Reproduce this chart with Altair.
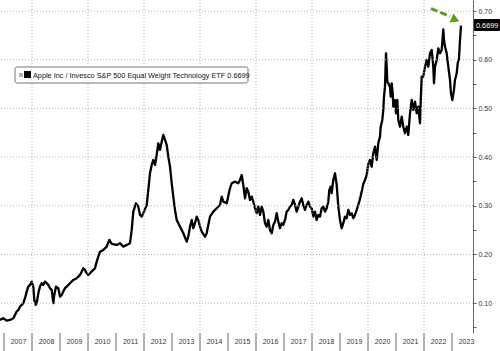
import altair as alt
import pandas as pd

# ---- data (decimal year, ratio) ----
years = [2006.857, 2006.975, 2007.096, 2007.214, 2007.332, 2007.393, 2007.453, 2007.511, 2007.571, 2007.632,
         2007.689, 2007.750, 2007.811, 2007.868, 2007.929, 2007.989, 2008.046, 2008.082, 2008.132, 2008.168,
         2008.225, 2008.286, 2008.346, 2008.403, 2008.464, 2008.525, 2008.582, 2008.643, 2008.703, 2008.761,
         2008.796, 2008.857, 2008.939, 2009.000, 2009.061, 2009.118, 2009.178, 2009.239, 2009.357, 2009.475,
         2009.596, 2009.714, 2009.775, 2009.832, 2009.893, 2009.953, 2010.011, 2010.071, 2010.189, 2010.250,
         2010.311, 2010.368, 2010.429, 2010.546, 2010.668, 2010.761, 2010.846, 2011.025, 2011.143, 2011.261,
         2011.382, 2011.500, 2011.561, 2011.618, 2011.714, 2011.796, 2011.857, 2011.918, 2012.000, 2012.096,
         2012.154, 2012.214, 2012.275, 2012.332, 2012.393, 2012.453, 2012.511, 2012.571, 2012.632, 2012.689,
         2012.750, 2012.811, 2012.868, 2012.929, 2012.989, 2013.046, 2013.107, 2013.168, 2013.286, 2013.404,
         2013.525, 2013.582, 2013.643, 2013.703, 2013.761, 2013.821, 2013.882, 2013.939, 2014.000, 2014.061,
         2014.178, 2014.239, 2014.296, 2014.357, 2014.475, 2014.596, 2014.714, 2014.775, 2014.832, 2014.953,
         2015.071, 2015.132, 2015.250, 2015.368, 2015.429, 2015.489, 2015.546, 2015.607, 2015.668, 2015.725,
         2015.786, 2015.846, 2015.904, 2015.964, 2016.025, 2016.082, 2016.143, 2016.204, 2016.261, 2016.321,
         2016.382, 2016.439, 2016.500, 2016.561, 2016.618, 2016.679, 2016.739, 2016.796, 2016.857, 2016.918,
         2016.975, 2017.036, 2017.096, 2017.154, 2017.214, 2017.275, 2017.332, 2017.393, 2017.453, 2017.511,
         2017.571, 2017.632, 2017.689, 2017.750, 2017.811, 2017.868, 2017.929, 2017.989, 2018.046, 2018.107,
         2018.168, 2018.225, 2018.286, 2018.346, 2018.404, 2018.464, 2018.525, 2018.582, 2018.618, 2018.668,
         2018.703, 2018.761, 2018.821, 2018.882, 2018.939, 2019.000, 2019.061, 2019.118, 2019.178, 2019.239,
         2019.296, 2019.357, 2019.418, 2019.475, 2019.536, 2019.596, 2019.654, 2019.714, 2019.775, 2019.832,
         2019.893, 2019.953, 2020.011, 2020.071, 2020.132, 2020.189, 2020.250, 2020.311, 2020.368, 2020.429,
         2020.454, 2020.511, 2020.546, 2020.571, 2020.607, 2020.643, 2020.668, 2020.689, 2020.725, 2020.786,
         2020.811, 2020.846, 2020.882, 2020.904, 2020.964, 2021.000, 2021.046, 2021.082, 2021.143, 2021.204,
         2021.261, 2021.321, 2021.382, 2021.439, 2021.500, 2021.561, 2021.618, 2021.679, 2021.739, 2021.796,
         2021.857, 2021.893, 2021.918, 2021.975, 2022.036, 2022.096, 2022.154, 2022.214, 2022.275, 2022.332,
         2022.357, 2022.393, 2022.453, 2022.511, 2022.571, 2022.632, 2022.689, 2022.714, 2022.750, 2022.811,
         2022.868, 2022.929, 2022.964, 2023.011, 2023.071, 2023.107, 2023.168, 2023.204, 2023.250, 2023.286,
         2023.321]

ratio = [0.0655, 0.0690, 0.0641, 0.0655, 0.0690, 0.0758, 0.0825, 0.0860, 0.0928, 0.0963,
         0.0998, 0.1101, 0.1236, 0.1339, 0.1374, 0.1441, 0.1339, 0.1066, 0.0963, 0.0998,
         0.1203, 0.1339, 0.1409, 0.1374, 0.1441, 0.1409, 0.1374, 0.1306, 0.1271, 0.0998,
         0.1168, 0.1339, 0.1306, 0.1133, 0.1168, 0.1236, 0.1306, 0.1339, 0.1409, 0.1476,
         0.1511, 0.1579, 0.1647, 0.1717, 0.1682, 0.1614, 0.1579, 0.1614, 0.1682, 0.1717,
         0.1852, 0.1955, 0.2057, 0.2092, 0.2160, 0.2298, 0.2216, 0.2195, 0.2230, 0.2160,
         0.2195, 0.2230, 0.2503, 0.2879, 0.3051, 0.2982, 0.2811, 0.2776, 0.2879, 0.3016,
         0.3324, 0.3667, 0.3838, 0.3940, 0.3838, 0.4043, 0.4283, 0.4146, 0.4316, 0.4454,
         0.4351, 0.4248, 0.4008, 0.3803, 0.3462, 0.3187, 0.2914, 0.2708, 0.2571, 0.2435,
         0.2263, 0.2366, 0.2571, 0.2708, 0.2538, 0.2641, 0.2776, 0.2708, 0.2571, 0.2468,
         0.2366, 0.2435, 0.2606, 0.2776, 0.2879, 0.2949, 0.3016, 0.3187, 0.3084, 0.3051,
         0.3359, 0.3462, 0.3495, 0.3462, 0.3530, 0.3632, 0.3427, 0.3154, 0.3359, 0.3290,
         0.3119, 0.3187, 0.3084, 0.2949, 0.2846, 0.2982, 0.2811, 0.2982, 0.2879, 0.2641,
         0.2571, 0.2708, 0.2503, 0.2435, 0.2606, 0.2674, 0.2846, 0.2674, 0.2538, 0.2641,
         0.2606, 0.2708, 0.2879, 0.2914, 0.2982, 0.3016, 0.3119, 0.3016, 0.2879, 0.2982,
         0.3084, 0.3154, 0.3016, 0.2914, 0.3016, 0.3084, 0.2982, 0.2949, 0.2776, 0.2879,
         0.2708, 0.2811, 0.2776, 0.2949, 0.2982, 0.2879, 0.2949, 0.3084, 0.3324, 0.3392,
         0.3257, 0.3530, 0.3667, 0.3427, 0.2982, 0.2708, 0.2538, 0.2641, 0.2776, 0.2743,
         0.2914, 0.2811, 0.2846, 0.2743, 0.2811, 0.2914, 0.3016, 0.3140, 0.3290, 0.3448,
         0.3530, 0.3632, 0.3858, 0.3940, 0.3803, 0.4078, 0.4214, 0.3940, 0.4283, 0.4419,
         0.4624, 0.4762, 0.4967, 0.5240, 0.5446, 0.6131, 0.5856, 0.5548, 0.5515, 0.5446,
         0.5240, 0.5515, 0.5310, 0.5035, 0.5172, 0.4899, 0.5172, 0.4762, 0.4624, 0.4830,
         0.4624, 0.4489, 0.4624, 0.4454, 0.4899, 0.5172, 0.4967, 0.5138, 0.4899, 0.5035,
         0.4694, 0.5310, 0.5651, 0.5651, 0.5856, 0.5994, 0.5856, 0.6131, 0.6199, 0.5856,
         0.5515, 0.5856, 0.5994, 0.6234, 0.6131, 0.6199, 0.6624, 0.6405, 0.6267, 0.6131,
         0.5856, 0.5583, 0.5310, 0.5172, 0.5378, 0.5583, 0.5721, 0.5926, 0.6029, 0.6405,
         0.6699]

year_starts = list(range(2007, 2024))
year_mids = [y + 0.5 for y in year_starts]
grid_years = [2008, 2010, 2012, 2014, 2016, 2018, 2020, 2022]
grid_values = [0.1, 0.2, 0.3, 0.4, 0.5, 0.6, 0.7]
tick_values = [round(0.05 * i, 2) for i in range(1, 15)]
legend_label = "Apple Inc / Invesco S&P 500 Equal Weight Technology ETF 0.6699"
last_label = "0.6699"

# arrow annotation (decimal year, ratio)
arrow_start = (2022.25, 0.7050)
arrow_end = (2022.93, 0.6890)
arrow_head = (2023.12, 0.6822)

W, H = 473, 333
FONT = "Liberation Sans"

xscale = alt.Scale(domain=[2006.857, 2023.75], nice=False, zero=False)
yscale = alt.Scale(domain=[0.0386, 0.7226], nice=False, zero=False)

xaxis = alt.Axis(
    values=year_mids, labelExpr="floor(datum.value)", ticks=False, domain=False, grid=False,
    labelFont=FONT, labelFontSize=7, labelColor="#333", labelPadding=4, title=None,
    labelFlush=False, labelOverlap=False)
yaxis = alt.Axis(
    orient="right", values=tick_values,
    labelExpr="(round(datum.value*100) % 10 == 0) ? format(datum.value, '.2f') : ''",
    grid=False, tickSize=3, tickColor="#555", domainColor="#666", labelFont=FONT,
    labelFontSize=7, labelColor="#333", labelPadding=2, title=None,
    labelFlush=False, labelOverlap=False)

df = pd.DataFrame({"year": years, "ratio": ratio})
one = pd.DataFrame({"a": [0]})

line = alt.Chart(df).mark_line(color="#000", strokeWidth=2.3, strokeJoin="round").encode(
    x=alt.X("year:Q", scale=xscale, axis=xaxis),
    y=alt.Y("ratio:Q", scale=yscale, axis=yaxis),
)

vgrid = alt.Chart(pd.DataFrame({"year": grid_years})).mark_rule(
    color="#b5b5b5", strokeDash=[1, 2], strokeWidth=1
).encode(x=alt.X("year:Q", scale=xscale, axis=xaxis))

hgrid = alt.Chart(pd.DataFrame({"ratio": grid_values})).mark_rule(
    color="#b5b5b5", strokeDash=[1, 2], strokeWidth=1
).encode(y=alt.Y("ratio:Q", scale=yscale, axis=yaxis))

separators = alt.Chart(pd.DataFrame({"year": year_starts})).mark_rule(
    color="#666", strokeWidth=1
).encode(x=alt.X("year:Q", scale=xscale, axis=xaxis), y=alt.value(H), y2=alt.value(H + 18))

legend_box = alt.Chart(one).mark_rect(
    fill="white", stroke="#777", strokeWidth=1, cornerRadius=2
).encode(x=alt.value(15), x2=alt.value(248), y=alt.value(67), y2=alt.value(83))
legend_grey = alt.Chart(one).mark_rect(fill="#b0b0b0").encode(
    x=alt.value(19), x2=alt.value(23), y=alt.value(73), y2=alt.value(77))
legend_black = alt.Chart(one).mark_rect(fill="#000").encode(
    x=alt.value(24), x2=alt.value(31), y=alt.value(71), y2=alt.value(78))
legend_text = alt.Chart(one).mark_text(
    text=legend_label, align="left", baseline="middle", font=FONT, fontSize=7.3, color="#111"
).encode(x=alt.value(33), y=alt.value(75.5))

last_box = alt.Chart(one).mark_rect(fill="#000", cornerRadius=1).encode(
    x=alt.value(474), x2=alt.value(500), y=alt.value(19), y2=alt.value(31))
last_text = alt.Chart(one).mark_text(
    text=last_label, align="left", baseline="middle", font=FONT, fontSize=7.3, color="white"
).encode(x=alt.value(476), y=alt.value(25.5))

arrow_df = pd.DataFrame({"year": [arrow_start[0]], "ratio": [arrow_start[1]],
                         "x2": [arrow_end[0]], "y2": [arrow_end[1]]})
arrow_line = alt.Chart(arrow_df).mark_rule(
    color="#5e9c1e", strokeWidth=3, strokeDash=[7, 3]
).encode(x=alt.X("year:Q", scale=xscale, axis=xaxis), y=alt.Y("ratio:Q", scale=yscale, axis=yaxis),
         x2="x2:Q", y2="y2:Q")
head_df = pd.DataFrame({"year": [arrow_head[0]], "ratio": [arrow_head[1]]})
arrow_tip = alt.Chart(head_df).mark_point(
    shape="triangle-right", filled=True, color="#5e9c1e", size=95, angle=24, opacity=1
).encode(x=alt.X("year:Q", scale=xscale, axis=xaxis), y=alt.Y("ratio:Q", scale=yscale, axis=yaxis))

chart = alt.layer(
    line, vgrid, hgrid, separators, legend_box, legend_grey, legend_black, legend_text,
    last_box, last_text, arrow_line, arrow_tip
).properties(
    width=W, height=H,
    autosize=alt.AutoSizeParams(type="none"),
    padding={"left": 0, "top": 0, "right": 27, "bottom": 18},
    background="white",
).configure_view(stroke=None)

chart.save("out.html", embed_options={"renderer": "svg", "actions": False})
